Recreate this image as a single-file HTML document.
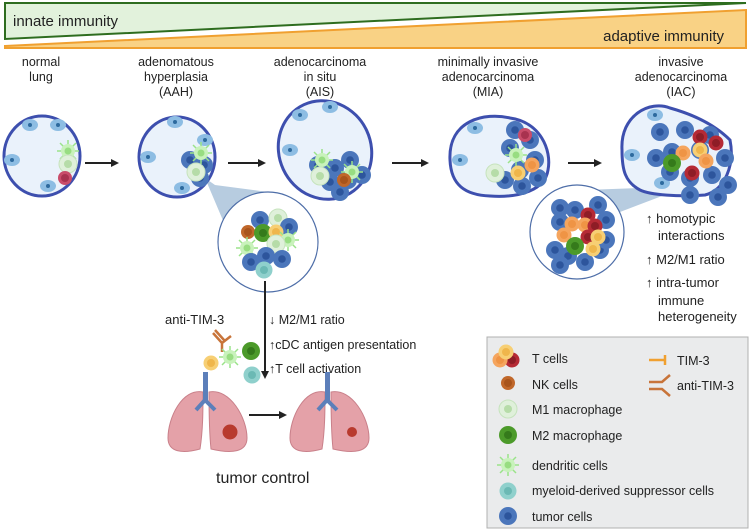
<!DOCTYPE html>
<html><head><meta charset="utf-8"><style>
body{margin:0;background:#fff}
svg{display:block}
text{font-family:"Liberation Sans",sans-serif;fill:#222}
</style></head><body>
<svg width="753" height="530" viewBox="0 0 753 530" xmlns="http://www.w3.org/2000/svg">
<defs>
<g id="tu"><circle r="9" fill="#4b76bb"/><circle r="3.8" fill="#2d559c"/></g>
<g id="ep"><ellipse rx="8" ry="6" fill="#8dbde3"/><circle r="2" fill="#2d6a9e"/></g>
<g id="tr"><circle r="7.5" fill="#b52a35"/><circle r="4" fill="#8e1d26"/></g>
<g id="to"><circle r="7.5" fill="#f5a55e"/><circle r="4" fill="#ef9445"/></g>
<g id="ty"><circle r="7.5" fill="#f7cf74"/><circle r="4" fill="#efb64b"/></g>
<g id="tp"><circle r="7" fill="#c94c6a"/><circle r="4" fill="#a8324f"/></g>
<g id="nk"><circle r="7" fill="#c0672a"/><circle r="4" fill="#a8541c"/></g>
<g id="m1"><circle r="9" fill="#dff0da" stroke="#c6e3bd"/><circle r="4" fill="#b6dca8"/></g>
<g id="m2"><circle r="9" fill="#4c9a2a"/><circle r="4" fill="#357a1b"/></g>
<g id="dc"><g stroke="#9be38a" stroke-width="1.5"><line x1="-11" y1="0" x2="11" y2="0"/><line x1="0" y1="-11" x2="0" y2="11"/><line x1="-8" y1="-8" x2="8" y2="8"/><line x1="-8" y1="8" x2="8" y2="-8"/></g><circle r="7" fill="#c8f2bb"/><circle r="3.5" fill="#98dd82"/></g>
<g id="md"><circle r="8.5" fill="#8fd0cc"/><circle r="4" fill="#6bb9b4"/></g>
<marker id="ah" markerWidth="8" markerHeight="8" refX="6" refY="4" orient="auto" markerUnits="userSpaceOnUse"><path d="M0,0 L8,4 L0,8z" fill="#222"/></marker>
</defs>

<polygon points="5,3 746,3 5,39" fill="#e2f2dc" stroke="#2e6d1f" stroke-width="2"/>
<polygon points="5,46 746,10 746,48 5,48" fill="#f9d285" stroke="#f0a030" stroke-width="2"/>
<text x="13" y="26" font-size="15">innate immunity</text>
<text x="724" y="41" font-size="15" text-anchor="end">adaptive immunity</text>

<g font-size="12.5" text-anchor="middle">
<text x="41" y="66">normal</text><text x="41" y="81">lung</text>
<text x="176" y="66">adenomatous</text><text x="176" y="81">hyperplasia</text><text x="176" y="96">(AAH)</text>
<text x="320" y="66">adenocarcinoma</text><text x="320" y="81">in situ</text><text x="320" y="96">(AIS)</text>
<text x="488" y="66">minimally invasive</text><text x="488" y="81">adenocarcinoma</text><text x="488" y="96">(MIA)</text>
<text x="681" y="66">invasive</text><text x="681" y="81">adenocarcinoma</text><text x="681" y="96">(IAC)</text>
</g>

<polygon points="205,178 215,185 268,192 230,237" fill="#b7cce0"/>
<polygon points="640,188 662,196 620,212 585,190" fill="#b7cce0"/>

<ellipse cx="42" cy="156" rx="38" ry="40" fill="#eaf2fb" stroke="#3d4fae" stroke-width="3"/>
<use href="#ep" x="30" y="125"/><use href="#ep" x="12" y="160"/><use href="#ep" x="48" y="186"/><use href="#ep" x="58" y="125"/>
<use href="#dc" x="68" y="151"/><use href="#m1" x="68" y="164"/><use href="#tp" x="65" y="178"/>
<line x1="85" y1="163" x2="117" y2="163" stroke="#222" stroke-width="2" marker-end="url(#ah)"/>

<ellipse cx="177" cy="157" rx="38" ry="40" fill="#eaf2fb" stroke="#3d4fae" stroke-width="3"/>
<use href="#ep" x="175" y="122"/><use href="#ep" x="148" y="157"/><use href="#ep" x="182" y="188"/><use href="#ep" x="205" y="140"/>
<use href="#tu" x="190" y="160"/><use href="#tu" x="204" y="165"/><use href="#tu" x="200" y="178"/>
<use href="#dc" x="201" y="153"/><use href="#m1" x="196" y="172"/>
<line x1="228" y1="163" x2="264" y2="163" stroke="#222" stroke-width="2" marker-end="url(#ah)"/>

<ellipse cx="325" cy="150" rx="46" ry="50" transform="rotate(-25 325 150)" fill="#eaf2fb" stroke="#3d4fae" stroke-width="3"/>
<use href="#ep" x="300" y="115"/><use href="#ep" x="330" y="107"/><use href="#ep" x="290" y="150"/>
<use href="#tu" x="318" y="165"/><use href="#tu" x="335" y="168"/><use href="#tu" x="350" y="160"/><use href="#tu" x="330" y="182"/><use href="#tu" x="348" y="180"/><use href="#tu" x="362" y="175"/><use href="#tu" x="340" y="192"/>
<use href="#dc" x="322" y="160"/><use href="#m1" x="320" y="176"/><use href="#dc" x="352" y="172"/><use href="#nk" x="344" y="180"/>
<line x1="392" y1="163" x2="427" y2="163" stroke="#222" stroke-width="2" marker-end="url(#ah)"/>

<path d="M450,160 C448,120 485,112 510,118 C540,122 552,150 548,170 C545,190 520,198 490,196 C465,195 451,185 450,160Z" fill="#eaf2fb" stroke="#3d4fae" stroke-width="3"/>
<use href="#ep" x="475" y="128"/><use href="#ep" x="460" y="160"/>
<use href="#tu" x="515" y="130"/><use href="#tu" x="530" y="140"/><use href="#tu" x="510" y="148"/><use href="#tu" x="535" y="160"/><use href="#tu" x="520" y="170"/><use href="#tu" x="538" y="178"/><use href="#tu" x="505" y="180"/><use href="#tu" x="522" y="186"/>
<use href="#tp" x="525" y="135"/><use href="#dc" x="516" y="155"/><use href="#to" x="532" y="165"/><use href="#ty" x="518" y="173"/><use href="#m1" x="495" y="173"/>
<line x1="568" y1="163" x2="600" y2="163" stroke="#222" stroke-width="2" marker-end="url(#ah)"/>

<path d="M622,150 C620,115 650,100 670,108 C695,115 715,125 730,140 C735,165 725,190 705,195 C680,197 650,195 640,190 C625,182 622,170 622,150Z" fill="#eaf2fb" stroke="#3d4fae" stroke-width="3"/>
<use href="#ep" x="655" y="115"/><use href="#ep" x="632" y="155"/><use href="#ep" x="662" y="183"/>
<use href="#tu" x="660" y="132"/><use href="#tu" x="685" y="130"/><use href="#tu" x="710" y="135"/><use href="#tu" x="656" y="158"/><use href="#tu" x="672" y="152"/><use href="#tu" x="700" y="150"/><use href="#tu" x="725" y="158"/><use href="#tu" x="670" y="172"/><use href="#tu" x="690" y="178"/><use href="#tu" x="712" y="175"/><use href="#tu" x="728" y="185"/><use href="#tu" x="718" y="197"/><use href="#tu" x="690" y="195"/>
<use href="#tr" x="700" y="137"/><use href="#tr" x="716" y="143"/><use href="#ty" x="700" y="150"/><use href="#to" x="683" y="153"/><use href="#to" x="706" y="161"/><use href="#tr" x="692" y="173"/><use href="#m2" x="672" y="163"/>

<circle cx="268" cy="242" r="50" fill="#fff" stroke="#4e6ea8" stroke-width="1.2"/>
<use href="#tu" x="260" y="220"/><use href="#m1" x="278" y="218"/><use href="#tu" x="289" y="227"/><use href="#nk" x="248" y="232"/><use href="#m2" x="263" y="233"/><use href="#ty" x="276" y="232"/><use href="#dc" x="288" y="240"/><use href="#m1" x="276" y="244"/><use href="#dc" x="247" y="248"/><use href="#tu" x="266" y="256"/><use href="#tu" x="282" y="259"/><use href="#tu" x="251" y="262"/><use href="#md" x="264" y="270"/>

<circle cx="577" cy="232" r="47" fill="#fff" stroke="#4e6ea8" stroke-width="1.2"/>
<use href="#tu" x="560" y="208"/><use href="#tu" x="575" y="210"/><use href="#tu" x="598" y="205"/><use href="#tu" x="560" y="222"/><use href="#tu" x="606" y="220"/><use href="#tu" x="555" y="250"/><use href="#tu" x="568" y="256"/><use href="#tu" x="585" y="262"/><use href="#tu" x="600" y="250"/><use href="#tu" x="560" y="265"/><use href="#tu" x="606" y="240"/>
<use href="#tr" x="588" y="215"/><use href="#to" x="572" y="224"/><use href="#to" x="585" y="225"/><use href="#tr" x="595" y="226"/><use href="#to" x="564" y="235"/><use href="#tr" x="588" y="237"/><use href="#ty" x="598" y="237"/><use href="#ty" x="593" y="249"/><use href="#m2" x="575" y="246"/>

<g font-size="13">
<text x="646" y="223">↑ homotypic</text><text x="658" y="240">interactions</text>
<text x="646" y="264">↑ M2/M1 ratio</text>
<text x="646" y="287">↑ intra-tumor</text><text x="658" y="305">immune</text><text x="658" y="321">heterogeneity</text>
</g>

<text x="165" y="324" font-size="13">anti-TIM-3</text>
<line x1="265" y1="281" x2="265" y2="377" stroke="#222" stroke-width="2" marker-end="url(#ah)"/>
<g font-size="12.5">
<text x="269" y="324">↓ M2/M1 ratio</text>
<text x="269" y="349">↑cDC antigen presentation</text>
<text x="269" y="373">↑T cell activation</text>
</g>
<g stroke="#c8743a" stroke-width="2.5" fill="none"><path d="M213,333 L222,343 L222,352 M222,343 L231,336 M215,330 L224,340"/></g>
<use href="#dc" x="230" y="357"/><use href="#m2" x="251" y="351"/><use href="#ty" x="211" y="363"/><use href="#md" x="252" y="375"/>

<g id="lungs">
<path d="M203,392 C182,388 168,418 168,438 C168,452 182,454 200,449 C203,430 203,410 203,392Z" fill="#e4a1a8" stroke="#c9808a"/>
<path d="M209,392 C230,388 247,418 247,438 C247,452 232,454 211,449 C209,430 209,410 209,392Z" fill="#e4a1a8" stroke="#c9808a"/>
<rect x="203" y="372" width="5" height="30" fill="#5c7fba"/>
<path d="M205,400 L196,410 M205,400 L215,410" stroke="#5c7fba" stroke-width="4"/>
</g>
<circle cx="230" cy="432" r="7.5" fill="#b83a2e"/>
<use href="#lungs" x="122"/>
<circle cx="352" cy="432" r="5" fill="#b83a2e"/>
<line x1="249" y1="415" x2="285" y2="415" stroke="#222" stroke-width="2" marker-end="url(#ah)"/>
<text x="216" y="483" font-size="16">tumor control</text>

<rect x="487" y="337" width="261" height="191" fill="#eaebec" stroke="#b0b0b0"/>
<use href="#tr" x="512" y="360"/><use href="#to" x="500" y="360"/><use href="#ty" x="506" y="352"/>
<use href="#nk" x="508" y="383"/><use href="#m1" x="508" y="409"/><use href="#m2" x="508" y="435"/><use href="#dc" x="508" y="465"/><use href="#md" x="508" y="491"/><use href="#tu" x="508" y="516"/>
<g font-size="12.5">
<text x="532" y="363">T cells</text><text x="532" y="389">NK cells</text><text x="532" y="414">M1 macrophage</text><text x="532" y="440">M2 macrophage</text><text x="532" y="470">dendritic cells</text><text x="532" y="495">myeloid-derived suppressor cells</text><text x="532" y="521">tumor cells</text>
<text x="677" y="365">TIM-3</text><text x="677" y="390">anti-TIM-3</text>
</g>
<path d="M649,360 L665,360 M665,355 L665,365" stroke="#f0a030" stroke-width="2.5"/>
<path d="M649,382 L662,382 L670,375 M649,389 L662,389 L670,396" stroke="#c8743a" stroke-width="2.5" fill="none"/>
</svg>
</body></html>
